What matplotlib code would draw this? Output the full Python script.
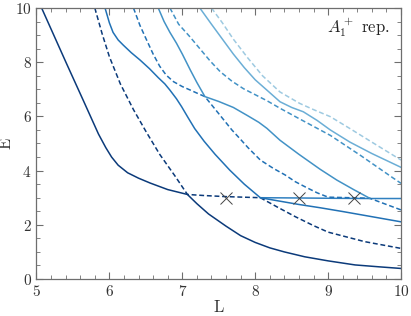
import matplotlib
matplotlib.use("Agg")
import matplotlib.pyplot as plt
from matplotlib.ticker import MultipleLocator

# ---- data ----
s1_L = [5.07, 5.24, 5.41, 5.64, 5.85, 5.95, 6.03, 6.12, 6.25, 6.4, 6.56, 6.8, 7.07, 7.2, 7.36, 7.6, 7.8, 8.0, 8.2, 8.4, 8.68, 9.0, 9.37, 9.7, 10.0]
s1_E = [10.0, 8.98, 7.96, 6.6, 5.35, 4.85, 4.5, 4.2, 3.92, 3.72, 3.54, 3.3, 3.12, 2.78, 2.4, 1.95, 1.6, 1.35, 1.15, 1.0, 0.82, 0.67, 0.52, 0.45, 0.39]

d1_L = [5.8, 5.9, 6.0, 6.15, 6.33, 6.5, 6.69, 6.9, 7.07, 7.3, 7.6, 8.07, 8.3, 8.55, 8.8, 9.0, 9.5, 10.0]
d1_E = [10.0, 9.05, 8.2, 7.2, 6.25, 5.45, 4.6, 3.8, 3.12, 3.08, 3.04, 3.0, 2.66, 2.3, 1.97, 1.73, 1.38, 1.13]

s2_L = [5.94, 6.0, 6.05, 6.12, 6.19, 6.3, 6.42, 6.55, 6.67, 6.76, 6.83, 6.92, 6.99, 7.08, 7.17, 7.3, 7.45, 7.65, 7.85, 8.07, 8.3, 8.6, 8.89, 9.2, 9.6, 10.0]
s2_E = [10.0, 9.45, 9.1, 8.82, 8.63, 8.35, 8.08, 7.76, 7.43, 7.2, 6.97, 6.65, 6.36, 5.95, 5.55, 5.08, 4.6, 4.02, 3.5, 3.0, 2.89, 2.75, 2.63, 2.49, 2.3, 2.11]

flat_L = [8.07, 8.6, 9.0, 9.57, 10.0]
flat_E = [3.0, 2.99, 2.98, 2.97, 2.97]

d2_L = [6.33, 6.42, 6.51, 6.6, 6.69, 6.78, 6.88, 7.0, 7.11, 7.2, 7.31, 7.5, 7.68, 7.8, 7.9, 8.07, 8.25, 8.41, 8.55, 8.7, 8.85, 9.0, 9.3, 9.57, 9.8, 10.0]
d2_E = [10.0, 9.35, 8.82, 8.3, 7.85, 7.52, 7.28, 7.1, 6.97, 6.86, 6.73, 6.1, 5.5, 5.15, 4.85, 4.39, 4.08, 3.84, 3.59, 3.38, 3.18, 3.02, 3.0, 2.98, 2.75, 2.55]

s3_L = [6.67, 6.75, 6.83, 6.92, 7.0, 7.11, 7.2, 7.31, 7.5, 7.7, 7.9, 8.05, 8.16, 8.34, 8.6, 8.89, 9.12, 9.35, 9.57]
s3_E = [10.0, 9.5, 9.1, 8.7, 8.3, 7.71, 7.25, 6.73, 6.55, 6.33, 6.02, 5.78, 5.56, 5.12, 4.6, 4.05, 3.65, 3.3, 2.98]

d3_L = [6.83, 6.95, 7.1, 7.24, 7.38, 7.52, 7.68, 7.84, 8.0, 8.16, 8.34, 8.6, 9.03, 9.45, 9.89, 10.0]
d3_E = [10.0, 9.4, 8.95, 8.5, 8.05, 7.65, 7.3, 7.02, 6.8, 6.58, 6.3, 5.92, 5.3, 4.55, 3.73, 3.53]

s4_L = [7.24, 7.4, 7.55, 7.7, 7.85, 8.0, 8.16, 8.34, 8.5, 8.66, 8.85, 9.03, 9.3, 9.6, 10.0]
s4_E = [10.0, 9.4, 8.85, 8.3, 7.8, 7.35, 6.97, 6.54, 6.33, 6.17, 5.85, 5.5, 5.05, 4.63, 4.12]

d4_L = [7.4, 7.55, 7.7, 7.9, 8.1, 8.34, 8.61, 8.8, 9.03, 9.3, 9.6, 10.0]
d4_E = [10.0, 9.45, 8.85, 8.15, 7.5, 6.9, 6.48, 6.25, 5.99, 5.55, 5.05, 4.39]

x_L = [7.6, 8.6, 9.35]
x_E = [3.0, 3.0, 3.0]

c_navy, c_mid, c_flat, c_s3, c_light, c_lightest = "#0b3a7a", "#2171b5", "#3080c0", "#4292c6", "#6baed6", "#9ecae1"

plt.rcParams["font.family"] = ["cmr10", "DejaVu Serif"]
plt.rcParams["mathtext.fontset"] = "cm"
plt.rcParams["axes.formatter.use_mathtext"] = True

fig = plt.figure(figsize=(4.11, 3.16), dpi=100)
ax = fig.add_axes([0.0888, 0.117, 0.8869, 0.8578])

lw = 1.1
dash = (0, (3.2, 1.8))
ax.plot(s1_L, s1_E, color=c_navy, lw=lw)
ax.plot(d1_L, d1_E, color=c_navy, lw=lw, ls=dash)
ax.plot(flat_L, flat_E, color=c_flat, lw=lw)
ax.plot(s2_L, s2_E, color=c_mid, lw=lw)
ax.plot(d2_L, d2_E, color=c_mid, lw=lw, ls=dash)
ax.plot(s3_L, s3_E, color=c_s3, lw=lw)
ax.plot(d3_L, d3_E, color=c_s3, lw=lw, ls=dash)
ax.plot(s4_L, s4_E, color=c_light, lw=lw)
ax.plot(d4_L, d4_E, color=c_lightest, lw=lw, ls=dash)
ax.plot(x_L, x_E, ls="none", marker="x", ms=8, mew=0.7, color="#444444")

ax.set_xlim(5, 10)
ax.set_ylim(0, 10)
ax.xaxis.set_major_locator(MultipleLocator(1))
ax.xaxis.set_minor_locator(MultipleLocator(0.2))
ax.yaxis.set_major_locator(MultipleLocator(2))
ax.yaxis.set_minor_locator(MultipleLocator(0.5))
gray = "#6e6e6e"
for s in ax.spines.values():
    s.set_color(gray)
    s.set_linewidth(0.9)
ax.tick_params(which="both", direction="in", top=True, right=True, color=gray,
               labelsize=11, labelcolor="#333333")
ax.tick_params(which="major", length=5, width=0.8)
ax.tick_params(which="minor", length=3, width=0.6)
ax.set_xlabel("L", fontsize=12, color="#333333")
ax.xaxis.set_label_coords(0.5, -0.075)
ax.set_ylabel("E", fontsize=12, color="#333333")
ax.yaxis.set_label_coords(-0.062, 0.5)
ax.text(0.97, 0.93, r"$A_1^+$ rep.", transform=ax.transAxes, ha="right", va="center",
        fontsize=12, color="#222222")

fig.savefig("out.png", dpi=100)
